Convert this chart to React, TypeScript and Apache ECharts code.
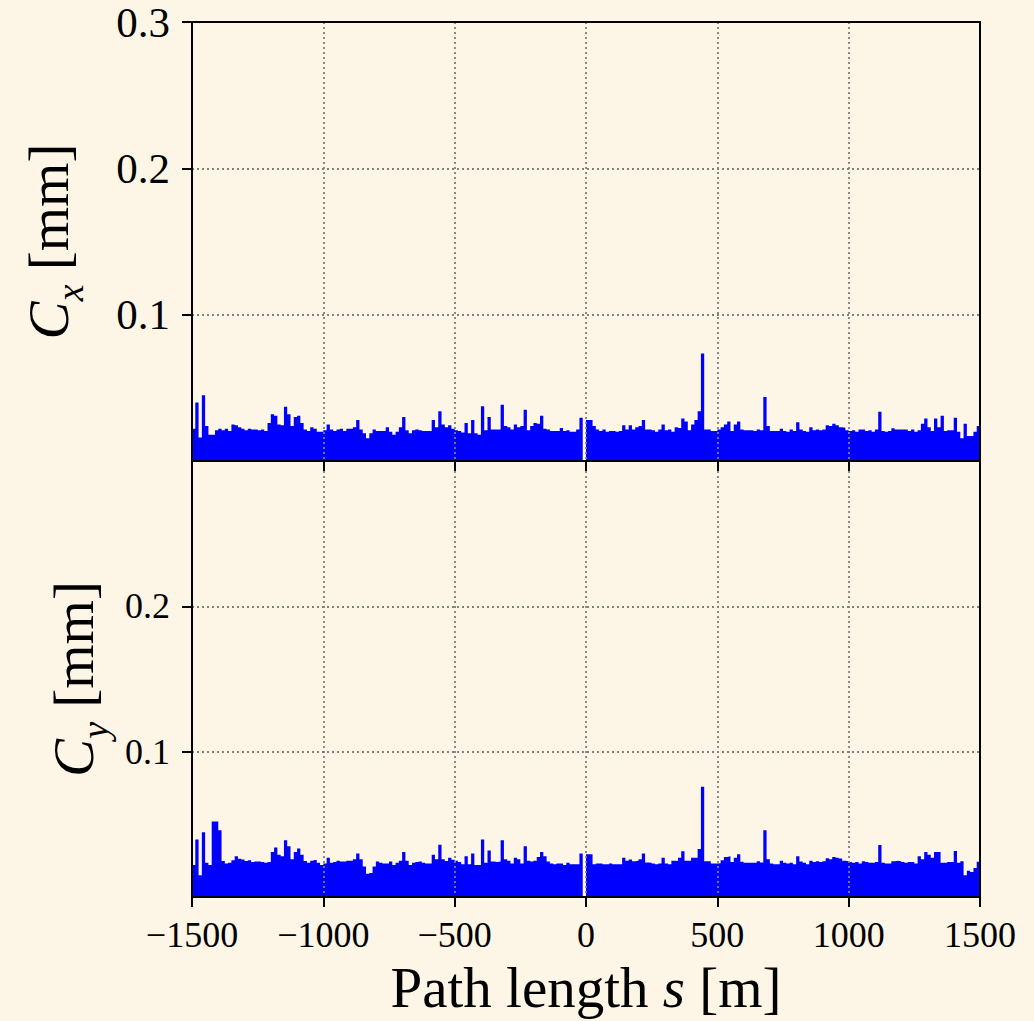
import React, { useEffect, useRef } from "react";
import * as echarts from "echarts";

// Path length axis (m)
const S_MIN = -1500;
const S_MAX = 1500;
const S_STEP = 500;
const BIN_WIDTH = 12.5;

// Horizontal corrector strength C_x (mm), one value per 12.5 m bin from -1500 m
const cxValues = [
  0.022, 0.040, 0.016, 0.045, 0.024, 0.018, 0.018, 0.021, 0.022, 0.021,
  0.022, 0.0205, 0.025, 0.0245, 0.023, 0.022, 0.021, 0.022, 0.0215, 0.0215,
  0.021, 0.0215, 0.0205, 0.026, 0.032, 0.031, 0.025, 0.0245, 0.037, 0.032,
  0.024, 0.030, 0.031, 0.026, 0.0215, 0.0205, 0.023, 0.022, 0.020, 0.020,
  0.021, 0.025, 0.0215, 0.0205, 0.0215, 0.022, 0.0205, 0.022, 0.022, 0.023,
  0.028, 0.0215, 0.019, 0.0155, 0.019, 0.0215, 0.0205, 0.0205, 0.0205, 0.023,
  0.020, 0.018, 0.020, 0.023, 0.030, 0.021, 0.019, 0.021, 0.0215, 0.021,
  0.0205, 0.0205, 0.0205, 0.028, 0.023, 0.034, 0.025, 0.023, 0.0245, 0.022,
  0.021, 0.0205, 0.0195, 0.026, 0.019, 0.028, 0.019, 0.018, 0.0375, 0.021,
  0.030, 0.0215, 0.0215, 0.0215, 0.0385, 0.024, 0.023, 0.0215, 0.025, 0.023,
  0.024, 0.035, 0.021, 0.024, 0.026, 0.0255, 0.031, 0.022, 0.0215, 0.0205,
  0.0205, 0.0205, 0.0225, 0.0205, 0.021, 0.020, 0.020, 0.0215, 0.0295, 0,
  0.028, 0.028, 0.024, 0.0215, 0.0205, 0.0215, 0.020, 0.0205, 0.0205, 0.020,
  0.0205, 0.0245, 0.0215, 0.0245, 0.0215, 0.023, 0.024, 0.028, 0.0215, 0.0215,
  0.021, 0.020, 0.0215, 0.025, 0.021, 0.0215, 0.020, 0.023, 0.0225, 0.029,
  0.027, 0.021, 0.025, 0.028, 0.034, 0.0735, 0.0215, 0.0215, 0.0205, 0.0205,
  0.0215, 0.023, 0.025, 0.027, 0.0205, 0.025, 0.027, 0.0215, 0.021, 0.021,
  0.021, 0.0205, 0.0215, 0.021, 0.0437, 0.024, 0.0205, 0.0205, 0.0205, 0.022,
  0.0205, 0.020, 0.0215, 0.0205, 0.0265, 0.0215, 0.0205, 0.020, 0.023, 0.021,
  0.0215, 0.021, 0.0215, 0.0245, 0.024, 0.0255, 0.0245, 0.023, 0.0228, 0.021,
  0.0205, 0.021, 0.020, 0.0215, 0.0215, 0.0205, 0.021, 0.020, 0.0215, 0.0337,
  0.0205, 0.020, 0.0205, 0.0223, 0.0215, 0.0215, 0.0215, 0.0215, 0.0205, 0.0215,
  0.020, 0.021, 0.0255, 0.029, 0.023, 0.0205, 0.029, 0.023, 0.031, 0.0205,
  0.021, 0.021, 0.0295, 0.020, 0.0155, 0.0255, 0.017, 0.017, 0.020, 0.024,
];

// Vertical corrector strength C_y (mm)
const cyValues = [
  0.022, 0.0396, 0.015, 0.0446, 0.0235, 0.022, 0.052, 0.052, 0.046, 0.0248,
  0.023, 0.0235, 0.0253, 0.028, 0.0264, 0.0258, 0.0248, 0.0253, 0.024, 0.0245,
  0.0245, 0.024, 0.0235, 0.024, 0.031, 0.034, 0.029, 0.028, 0.039, 0.035,
  0.026, 0.031, 0.0333, 0.029, 0.0248, 0.0235, 0.025, 0.0255, 0.0235, 0.022,
  0.023, 0.027, 0.0235, 0.024, 0.025, 0.0245, 0.0245, 0.025, 0.025, 0.026,
  0.030, 0.026, 0.021, 0.016, 0.0165, 0.021, 0.0245, 0.0235, 0.023, 0.023,
  0.0245, 0.022, 0.0235, 0.025, 0.031, 0.025, 0.022, 0.0235, 0.024, 0.0245,
  0.0235, 0.023, 0.023, 0.029, 0.026, 0.036, 0.026, 0.0248, 0.027, 0.0257,
  0.025, 0.024, 0.0225, 0.028, 0.0225, 0.030, 0.022, 0.022, 0.0396, 0.0235,
  0.032, 0.0245, 0.0241, 0.0245, 0.039, 0.026, 0.025, 0.023, 0.027, 0.026,
  0.023, 0.035, 0.025, 0.0245, 0.025, 0.0275, 0.031, 0.028, 0.0245, 0.023,
  0.0225, 0.023, 0.023, 0.022, 0.0235, 0.0225, 0.0225, 0.0225, 0.030, 0,
  0.0294, 0.0294, 0.0225, 0.023, 0.023, 0.0225, 0.0225, 0.023, 0.0225, 0.0225,
  0.0225, 0.027, 0.025, 0.0258, 0.0246, 0.025, 0.026, 0.030, 0.0237, 0.0235,
  0.023, 0.0225, 0.023, 0.027, 0.023, 0.0225, 0.025, 0.0248, 0.027, 0.0315,
  0.025, 0.025, 0.027, 0.027, 0.033, 0.0759, 0.0246, 0.0246, 0.023, 0.023,
  0.0232, 0.0253, 0.0276, 0.028, 0.024, 0.027, 0.0294, 0.0242, 0.0235, 0.0235,
  0.0235, 0.0235, 0.0246, 0.0238, 0.046, 0.026, 0.023, 0.0225, 0.0225, 0.025,
  0.0235, 0.023, 0.0235, 0.0225, 0.028, 0.0245, 0.0235, 0.0225, 0.025, 0.024,
  0.0246, 0.024, 0.0246, 0.0267, 0.026, 0.0276, 0.027, 0.0265, 0.025, 0.0246,
  0.024, 0.0235, 0.024, 0.023, 0.0246, 0.024, 0.0235, 0.0235, 0.024, 0.0357,
  0.0235, 0.023, 0.023, 0.0246, 0.025, 0.0246, 0.024, 0.0235, 0.024, 0.024,
  0.023, 0.028, 0.026, 0.031, 0.029, 0.027, 0.031, 0.031, 0.0235, 0.0235,
  0.024, 0.024, 0.0317, 0.0235, 0.0246, 0.015, 0.018, 0.0172, 0.020, 0.0242,
];

// Left edge of each 12.5 m bin along the path
const sLeftEdges = cxValues.map((_, i) => S_MIN + BIN_WIDTH * i);

const xTickValues = [-1500, -1000, -500, 0, 500, 1000, 1500];
const cxTickValues = [0.1, 0.2, 0.3];
const cyTickValues = [0.1, 0.2];
const Y_MIN = 0;
const Y_MAX = 0.3;
const Y_STEP = 0.1;

const FONT = "'Liberation Serif', 'DejaVu Serif', serif";
const BG = "#fdf6e6";
const BAR = "#0000ff";
const GRID = "#7f7f7f";

function fmtMinus(v: number) {
  const r = Math.round(v);
  return r < 0 ? "\u2212" + Math.abs(r) : String(r);
}

// Step outline: each bin value holds from its left edge to the next edge (closing at S_MAX)
function stepData(values: number[]) {
  const pts = values.map((v, i) => [sLeftEdges[i], v]);
  pts.push([S_MAX, values[values.length - 1]]);
  return pts;
}

export default function App() {
  const ref = useRef<HTMLDivElement>(null);

  useEffect(() => {
    if (!ref.current) return;
    const chart = echarts.init(ref.current, undefined, { renderer: "svg" });

    const splitLineStyle = {
      show: true,
      lineStyle: { color: GRID, width: 1.8, type: [2, 3] as any },
    };
    const frameLine = { show: true, lineStyle: { color: "#000", width: 2 } };
    const tickStyle = { color: "#000", width: 2 };

    const frameX = (gridIndex: number, position: "top" | "bottom") => ({
      type: "value",
      gridIndex,
      position,
      min: S_MIN,
      max: S_MAX,
      interval: S_STEP,
      z: 6,
      axisLine: { ...frameLine, onZero: false },
      axisTick: { show: false },
      axisLabel: { show: false },
      splitLine: { show: false },
    });
    const frameY = (gridIndex: number) => ({
      type: "value",
      gridIndex,
      position: "right",
      min: Y_MIN,
      max: Y_MAX,
      interval: Y_STEP,
      z: 6,
      axisLine: { ...frameLine, onZero: false },
      axisTick: { show: false },
      axisLabel: { show: false },
      splitLine: { show: false },
    });

    const yLabelFormatter = (allowed: number[]) => (v: number) => {
      const r = Math.round(v * 10) / 10;
      return allowed.some((a) => Math.abs(a - r) < 1e-9) ? r.toFixed(1) : "";
    };

    const nameRich = {
      c: { fontFamily: FONT, fontStyle: "italic", fontSize: 57, color: "#000", verticalAlign: "bottom", padding: [0, 0, 12, 0] },
      s: { fontFamily: FONT, fontStyle: "italic", fontSize: 38, color: "#000", verticalAlign: "bottom" },
      n: { fontFamily: FONT, fontSize: 57, color: "#000", verticalAlign: "bottom", padding: [0, 0, 12, 0] },
    };

    const stepSeries = (name: string, axisIndex: number, values: number[]) => ({
      name,
      type: "line",
      xAxisIndex: axisIndex,
      yAxisIndex: axisIndex,
      step: "end",
      symbol: "none",
      showSymbol: false,
      z: 2,
      lineStyle: { width: 0, color: BAR },
      areaStyle: { color: BAR, opacity: 1 },
      data: stepData(values),
    });

    chart.setOption({
      animation: false,
      backgroundColor: BG,
      grid: [
        { left: 192, top: 22, width: 788, height: 439, containLabel: false },
        { left: 192, top: 461, width: 788, height: 436, containLabel: false },
      ],
      xAxis: [
        {
          type: "value",
          gridIndex: 0,
          position: "bottom",
          min: S_MIN,
          max: S_MAX,
          interval: S_STEP,
          z: 5,
          axisLine: { ...frameLine, onZero: false },
          axisTick: { show: true, length: 10, lineStyle: tickStyle, customValues: xTickValues },
          axisLabel: { show: false },
          splitLine: splitLineStyle,
        },
        frameX(0, "top"),
        {
          type: "value",
          gridIndex: 1,
          position: "bottom",
          min: S_MIN,
          max: S_MAX,
          interval: S_STEP,
          z: 5,
          axisLine: { ...frameLine, onZero: false },
          axisTick: { show: true, length: 10, lineStyle: tickStyle, customValues: xTickValues },
          axisLabel: {
            show: true,
            margin: 20,
            color: "#000",
            fontFamily: FONT,
            fontSize: 36,
            customValues: xTickValues,
            formatter: (v: number) => fmtMinus(v),
          },
          splitLine: splitLineStyle,
          name: "{n|Path length }{i|s}{n| [m]}",
          nameLocation: "middle",
          nameGap: 62,
          nameTextStyle: {
            rich: {
              n: { fontFamily: FONT, fontSize: 57, color: "#000" },
              i: { fontFamily: FONT, fontSize: 57, fontStyle: "italic", color: "#000" },
            },
          },
        },
        frameX(1, "top"),
      ],
      yAxis: [
        {
          type: "value",
          gridIndex: 0,
          position: "left",
          min: Y_MIN,
          max: Y_MAX,
          interval: Y_STEP,
          z: 5,
          axisLine: { ...frameLine, onZero: false },
          axisTick: { show: true, length: 10, lineStyle: tickStyle, customValues: cxTickValues },
          axisLabel: {
            show: true,
            margin: 22,
            color: "#000",
            fontFamily: FONT,
            fontSize: 43,
            lineHeight: 34,
            padding: [6, 0, 0, 0],
            customValues: cxTickValues,
            formatter: yLabelFormatter(cxTickValues),
          },
          splitLine: splitLineStyle,
          name: "{c|C}{s|x}{n| [mm]}",
          nameLocation: "middle",
          nameRotate: 90,
          nameGap: 103,
          nameTextStyle: { rich: nameRich },
        },
        frameY(0),
        {
          type: "value",
          gridIndex: 1,
          position: "left",
          min: Y_MIN,
          max: Y_MAX,
          interval: Y_STEP,
          z: 5,
          axisLine: { ...frameLine, onZero: false },
          axisTick: { show: true, length: 10, lineStyle: tickStyle, customValues: cyTickValues },
          axisLabel: {
            show: true,
            margin: 22,
            color: "#000",
            fontFamily: FONT,
            fontSize: 36,
            customValues: cyTickValues,
            formatter: yLabelFormatter(cyTickValues),
          },
          splitLine: splitLineStyle,
          name: "{c|C}{s|y}{n| [mm]}",
          nameLocation: "middle",
          nameRotate: 90,
          nameGap: 77,
          nameTextStyle: { rich: nameRich },
        },
        frameY(1),
      ],
      series: [stepSeries("Cx", 0, cxValues), stepSeries("Cy", 2, cyValues)],
    });

    return () => chart.dispose();
  }, []);

  return (
    <div
      ref={ref}
      style={{ position: "fixed", left: 0, top: 0, width: 1034, height: 1021, background: BG }}
    />
  );
}
